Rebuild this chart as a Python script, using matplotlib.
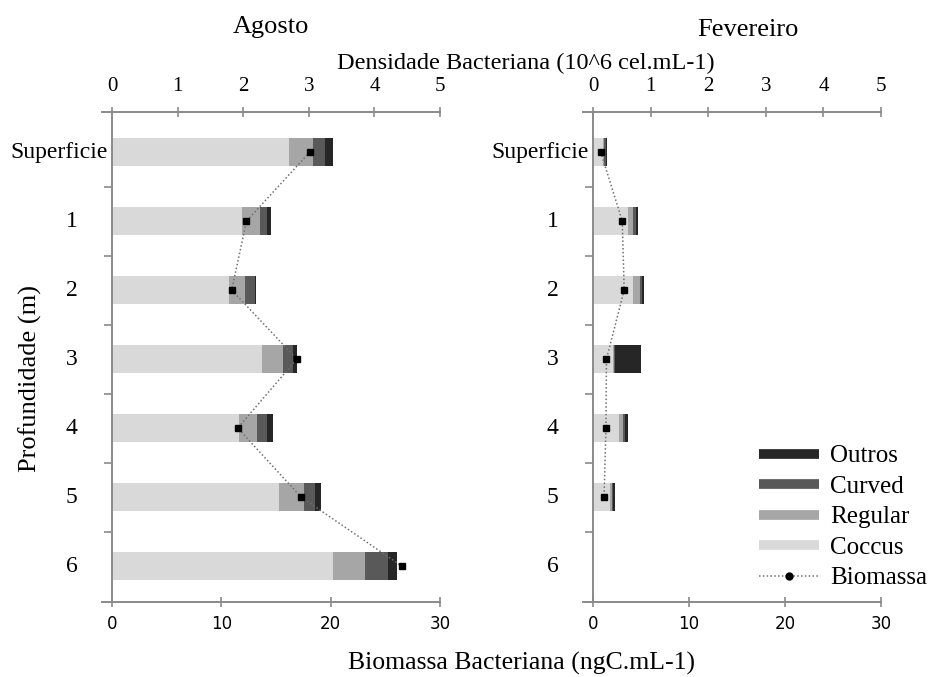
import matplotlib
matplotlib.use("Agg")
import matplotlib.pyplot as plt
import numpy as np
from matplotlib.lines import Line2D

plt.rcParams['font.family'] = ['Liberation Serif', 'DejaVu Serif']

categories = ['Superficie', '1', '2', '3', '4', '5', '6']

# Agosto - densidade (10^6 cel/mL) por morfotipo
ago_coccus = [2.70, 1.98, 1.79, 2.28, 1.94, 2.55, 3.37]
ago_regular = [0.36, 0.27, 0.24, 0.33, 0.27, 0.37, 0.49]
ago_curved = [0.19, 0.11, 0.15, 0.15, 0.15, 0.17, 0.34]
ago_outros = [0.12, 0.06, 0.02, 0.06, 0.09, 0.09, 0.14]
ago_biomassa = [18.1, 12.3, 10.95, 16.9, 11.5, 17.3, 26.5]

# Fevereiro
fev_coccus = [0.18, 0.60, 0.70, 0.34, 0.46, 0.30, 0.0]
fev_regular = [0.01, 0.10, 0.12, 0.03, 0.06, 0.03, 0.0]
fev_curved = [0.03, 0.05, 0.03, 0.02, 0.04, 0.02, 0.0]
fev_outros = [0.03, 0.03, 0.03, 0.45, 0.04, 0.04, 0.0]
fev_biomassa = [0.8, 3.05, 3.25, 1.4, 1.35, 1.15, np.nan]

dens_ticks = [0, 1, 2, 3, 4, 5]
bio_ticks = [0, 10, 20, 30]

colors = {'Coccus': '#d9d9d9', 'Regular': '#a6a6a6', 'Curved': '#595959', 'Outros': '#262626'}
spine_c = '#8a8a8a'

W, H = 933, 677
fig = plt.figure(figsize=(W / 100, H / 100), dpi=100)

def make_panel(x0, width, series, biomassa):
    ax = fig.add_axes([x0 / W, 1 - 602 / H, width / W, (602 - 112) / H])
    ax2 = ax.twiny()
    y = np.arange(len(categories))
    left = np.zeros(len(categories))
    for name, vals in series:
        ax.barh(y, vals, left=left, height=0.4, color=colors[name], edgecolor='none', zorder=2)
        left = left + np.array(vals)
    ax.set_xlim(0, 5)
    ax.set_ylim(6.52, -0.58)
    ax.xaxis.set_ticks_position('top')
    ax.xaxis.set_label_position('top')
    ax.set_xticks(dens_ticks)
    ax.set_xticklabels([str(t) for t in dens_ticks], fontsize=15)
    ax.tick_params(axis='x', direction='inout', length=7, width=1.2, color=spine_c, pad=8)
    ax.set_yticks([0.5, 1.5, 2.5, 3.5, 4.5, 5.5])
    ax.set_yticklabels([])
    ax.tick_params(axis='y', direction='out', length=6, width=1.2, color=spine_c)
    for s in ['right', 'bottom']:
        ax.spines[s].set_visible(False)
    for s in ['top', 'left']:
        ax.spines[s].set_color(spine_c)
        ax.spines[s].set_linewidth(1.4)
    for i, c in enumerate(categories):
        if i == 0:
            ax.annotate(c, xy=(0, i), xycoords=('axes fraction', 'data'), xytext=(-3, 0),
                        textcoords='offset points', ha='right', va='center', fontsize=17)
        else:
            ax.annotate(c, xy=(0, i), xycoords=('axes fraction', 'data'), xytext=(-29, 0),
                        textcoords='offset points', ha='center', va='center', fontsize=17)

    ax2.set_xlim(0, 30)
    ax2.set_ylim(6.52, -0.58)
    ax2.xaxis.set_ticks_position('bottom')
    ax2.xaxis.set_label_position('bottom')
    ax2.set_xticks(bio_ticks)
    ax2.set_xticklabels([str(t) for t in bio_ticks], fontsize=12, family='DejaVu Sans')
    ax2.tick_params(axis='x', direction='inout', length=7, width=1.2, color=spine_c, pad=6)
    for s in ['right', 'top', 'left']:
        ax2.spines[s].set_visible(False)
    ax2.spines['bottom'].set_visible(True)
    ax2.spines['bottom'].set_color(spine_c)
    ax2.spines['bottom'].set_linewidth(1.4)
    ax2.plot(biomassa, np.arange(len(categories)), linestyle=(0, (1, 1.5)), color='#707070',
             linewidth=1.1, marker='s', markersize=4, markerfacecolor='black',
             markeredgecolor='black', zorder=5)
    # axis overhang left of the vertical axis
    for yy in (0, 1):
        ax.plot([-10 / width, 0], [yy, yy], transform=ax.transAxes, color=spine_c,
                linewidth=1.4, clip_on=False)
    return ax

make_panel(112, 328, [('Coccus', ago_coccus), ('Regular', ago_regular),
                      ('Curved', ago_curved), ('Outros', ago_outros)], ago_biomassa)
make_panel(593, 288, [('Coccus', fev_coccus), ('Regular', fev_regular),
                      ('Curved', fev_curved), ('Outros', fev_outros)], fev_biomassa)

fig.text(271 / W, 1 - 27 / H, 'Agosto', ha='center', va='center', fontsize=19)
fig.text(748 / W, 1 - 30 / H, 'Fevereiro', ha='center', va='center', fontsize=19)
fig.text(526 / W, 1 - 63 / H, 'Densidade Bacteriana (10^6 cel.mL-1)', ha='center', va='center', fontsize=17.5)
fig.text(521 / W, 1 - 663 / H, 'Biomassa Bacteriana (ngC.mL-1)', ha='center', va='center', fontsize=18.5)
fig.text(30 / W, 1 - 378 / H, 'Profundidade (m)', ha='center', va='center', rotation=90, fontsize=19)

handles = [Line2D([], [], color=colors['Outros'], linewidth=7, solid_capstyle='butt'),
           Line2D([], [], color=colors['Curved'], linewidth=7, solid_capstyle='butt'),
           Line2D([], [], color=colors['Regular'], linewidth=7, solid_capstyle='butt'),
           Line2D([], [], color=colors['Coccus'], linewidth=7, solid_capstyle='butt'),
           Line2D([], [], color='#707070', linestyle=(0, (1, 1.5)), linewidth=1.1, marker='o',
                  markersize=5, markerfacecolor='black', markeredgecolor='black')]
labels = ['Outros', 'Curved', 'Regular', 'Coccus', 'Biomassa']
fig.legend(handles, labels, loc='upper left', bbox_to_anchor=(759 / W, 1 - 445 / H),
           frameon=False, fontsize=18, handlelength=2.4, labelspacing=0.32,
           handletextpad=0.45, borderpad=0, borderaxespad=0)

fig.savefig('out.png', dpi=100)
